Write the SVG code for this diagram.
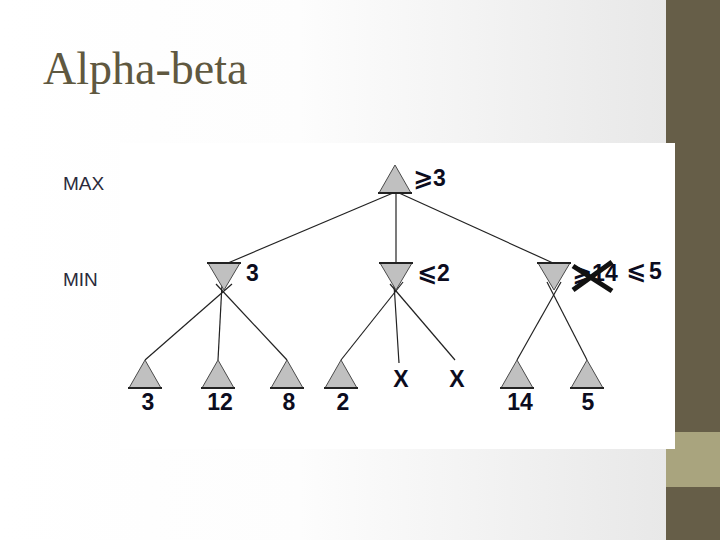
<svg xmlns="http://www.w3.org/2000/svg" width="720" height="540" viewBox="0 0 720 540">
<defs>
<linearGradient id="bg" x1="0" y1="0" x2="1" y2="0">
<stop offset="0" stop-color="#ffffff"/>
<stop offset="0.45" stop-color="#fdfdfd"/>
<stop offset="1" stop-color="#e8e8e8"/>
</linearGradient>
<style>
.tri{fill:#c0c0c0;stroke:#4a4a4a;stroke-width:1}
.base{stroke:#222;stroke-width:2}
.edge{stroke:#222;stroke-width:1.2;fill:none}
.val{font-family:"Liberation Sans",Arial,sans-serif;font-weight:bold;font-size:23px;fill:#0c0c1e}
.sym{font-family:"DejaVu Sans","Liberation Sans",sans-serif;font-weight:bold;font-size:24px}
.lvl{font-family:"Liberation Sans",Arial,sans-serif;font-size:19px;fill:#2a2a3a}
.title{font-family:"Liberation Serif","Times New Roman",serif;font-size:46px;fill:#5f5840}
</style>
</defs>
<rect x="0" y="0" width="666" height="540" fill="url(#bg)"/>
<rect x="666" y="0" width="54" height="540" fill="#665e48"/>
<rect x="666" y="432" width="54" height="55" fill="#a9a47e"/>
<rect x="120" y="143" width="555" height="306" fill="#ffffff"/>
<text class="title" x="43" y="84">Alpha-beta</text>
<text class="lvl" x="63" y="190">MAX</text>
<text class="lvl" x="63" y="286">MIN</text>
<g id="connectors">
<line class="edge" x1="393" y1="193" x2="228" y2="263"/>
<line class="edge" x1="396" y1="193" x2="396" y2="263"/>
<line class="edge" x1="399" y1="193" x2="553" y2="263"/>
<line class="edge" x1="232" y1="284" x2="145" y2="360"/>
<line class="edge" x1="222" y1="284" x2="218" y2="360"/>
<line class="edge" x1="216" y1="284" x2="287" y2="360"/>
<line class="edge" x1="403" y1="282" x2="341" y2="360"/>
<line class="edge" x1="394" y1="284" x2="399" y2="363"/>
<line class="edge" x1="390" y1="284" x2="455" y2="360"/>
<line class="edge" x1="561" y1="282" x2="517" y2="360"/>
<line class="edge" x1="547" y1="282" x2="587" y2="360"/>
</g>
<g id="root">
<polygon class="tri" points="395,165 379,193 411,193"/>
<line class="base" x1="378" y1="193" x2="412" y2="193"/>
<text class="val" x="413" y="186"><tspan class="sym">⩾</tspan>3</text>
</g>
<g id="min1">
<polygon class="tri" points="208,263 240,263 224,290"/>
<line class="base" x1="207" y1="263" x2="241" y2="263"/>
<text class="val" x="246" y="281">3</text>
</g>
<g id="min2">
<polygon class="tri" points="380,263 412,263 396,290"/>
<line class="base" x1="379" y1="263" x2="413" y2="263"/>
<text class="val" x="417" y="281"><tspan class="sym">⩽</tspan>2</text>
</g>
<g id="min3">
<polygon class="tri" points="538,263 570,263 554,290"/>
<line class="base" x1="537" y1="263" x2="571" y2="263"/>
<text class="val" x="572" y="281"><tspan class="sym">⩾</tspan>14</text>
<line x1="573" y1="266" x2="612" y2="291" stroke="#111" stroke-width="5"/>
<line x1="573" y1="290" x2="612" y2="262" stroke="#111" stroke-width="5"/>
<text class="val" x="626" y="279"><tspan class="sym">⩽</tspan><tspan dx="3">5</tspan></text>
</g>
<g id="leaf1">
<polygon class="tri" points="145,360 129,388 161,388"/>
<line class="base" x1="128" y1="388" x2="162" y2="388"/>
<text class="val" x="148" y="410" text-anchor="middle">3</text>
</g>
<g id="leaf2">
<polygon class="tri" points="218,360 202,388 234,388"/>
<line class="base" x1="201" y1="388" x2="235" y2="388"/>
<text class="val" x="220" y="410" text-anchor="middle">12</text>
</g>
<g id="leaf3">
<polygon class="tri" points="287,360 271,388 303,388"/>
<line class="base" x1="270" y1="388" x2="304" y2="388"/>
<text class="val" x="289" y="410" text-anchor="middle">8</text>
</g>
<g id="leaf4">
<polygon class="tri" points="341,360 325,388 357,388"/>
<line class="base" x1="324" y1="388" x2="358" y2="388"/>
<text class="val" x="343" y="410" text-anchor="middle">2</text>
</g>
<g id="leaf5">
<text class="val" x="401" y="387" text-anchor="middle">X</text>
</g>
<g id="leaf6">
<text class="val" x="457" y="387" text-anchor="middle">X</text>
</g>
<g id="leaf7">
<polygon class="tri" points="517,360 501,388 533,388"/>
<line class="base" x1="500" y1="388" x2="534" y2="388"/>
<text class="val" x="520" y="410" text-anchor="middle">14</text>
</g>
<g id="leaf8">
<polygon class="tri" points="587,360 571,388 603,388"/>
<line class="base" x1="570" y1="388" x2="604" y2="388"/>
<text class="val" x="588" y="410" text-anchor="middle">5</text>
</g>
</svg>
